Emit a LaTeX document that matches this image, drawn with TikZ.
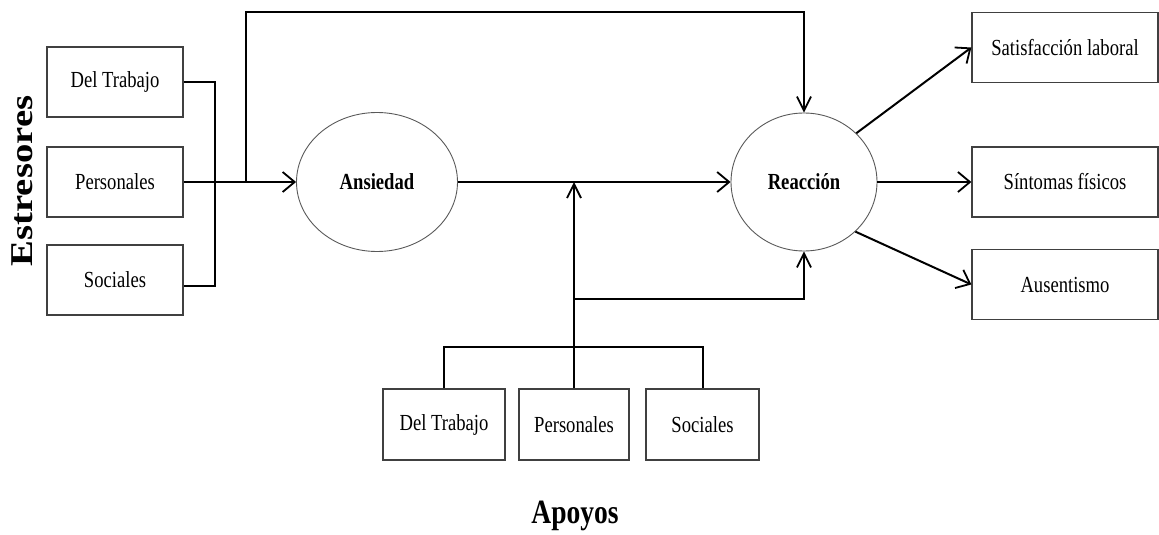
\documentclass[tikz,border=0pt]{standalone}
\usepackage{fontspec}
\setmainfont{Liberation Serif}[FakeStretch=0.81]
\newfontfamily\plainserif{Liberation Serif}
\usetikzlibrary{arrows.meta,calc,shapes.geometric}
\begin{document}
\begin{tikzpicture}[x=1pt,y=-1pt,
  box/.style={draw=black!75, line width=1.3pt, minimum width=#1, minimum height=70pt, inner sep=0pt, font=\fontsize{23}{26}\selectfont},
  ell/.style={ellipse, draw=black!65, line width=0.9pt, inner sep=0pt, font=\bfseries\fontsize{23}{26}\selectfont},
  conn/.style={line width=2pt, draw=black},
  htip/.style={-{Straight Barb[length=12pt,width=20pt,line width=1.8pt]}},
  vtip/.style={-{Straight Barb[length=14pt,width=14pt,line width=1.8pt]}}]
\useasboundingbox (0,0) rectangle (1159,535);
% left boxes
\node[box=136pt] (d1) at (115,82) {Del Trabajo};
\node[box=136pt] (p1) at (115,182) {Personales};
\node[box=136pt] (s1) at (115,280) {Sociales};
% ellipses
\node[ell, minimum width=161pt, minimum height=139pt] (ans) at (377,182) {Ansiedad};
\node[ell, minimum width=146pt, minimum height=138pt] (rea) at (804,182) {Reacción};
% right boxes
\node[box=186pt] (r1) at (1065,47.5) {Satisfacción laboral};
\node[box=186pt] (r2) at (1065,182) {Síntomas físicos};
\node[box=186pt] (r3) at (1065,284.5) {Ausentismo};
% bottom boxes
\node[box=122pt, minimum height=71pt] (b1) at (444,424.5) {Del Trabajo};
\node[box=110pt, minimum height=71pt] (b2) at (574,424.5) {Personales};
\node[box=113pt, minimum height=71pt] (b3) at (702.5,424.5) {Sociales};
% titles
\node[inner sep=0pt, font=\bfseries\fontsize{34}{38}\selectfont] (apo) at (575,516) {Apoyos};
\node[inner sep=0pt, rotate=90] (est) at (22.5,181) {\scalebox{1}[0.82]{\plainserif\bfseries\fontsize{38.7}{42}\selectfont Estresores}};
% coordinates
\coordinate (j1) at (215,82);
\coordinate (j2) at (215,286);
\coordinate (ja) at (246,182);
\coordinate (tl) at (246,12);
\coordinate (jm) at (574,182);
\coordinate (jb) at (574,299);
\coordinate (bus) at (574,347);
% connectors
\draw[conn] (d1.east) -- (j1) -- (j2) -- (s1.east |- j2);
\draw[conn, htip] (p1.east) -- (ans.west);
\draw[conn, vtip] (ja) -- (tl) -| (rea.north);
\draw[conn, htip] (ans.east) -- (rea.west);
\draw[conn] (b1.north) |- (bus) -| (b3.north);
\draw[conn, vtip] (b2.north) -- (jm);
\draw[conn, vtip] (jb) -| (rea.south);
\draw[conn, htip] (rea.43) -- (r1.west);
\draw[conn, htip] (rea.east) -- (r2.west);
\draw[conn, htip] (rea.-44) -- (r3.west);
\end{tikzpicture}
\end{document}
